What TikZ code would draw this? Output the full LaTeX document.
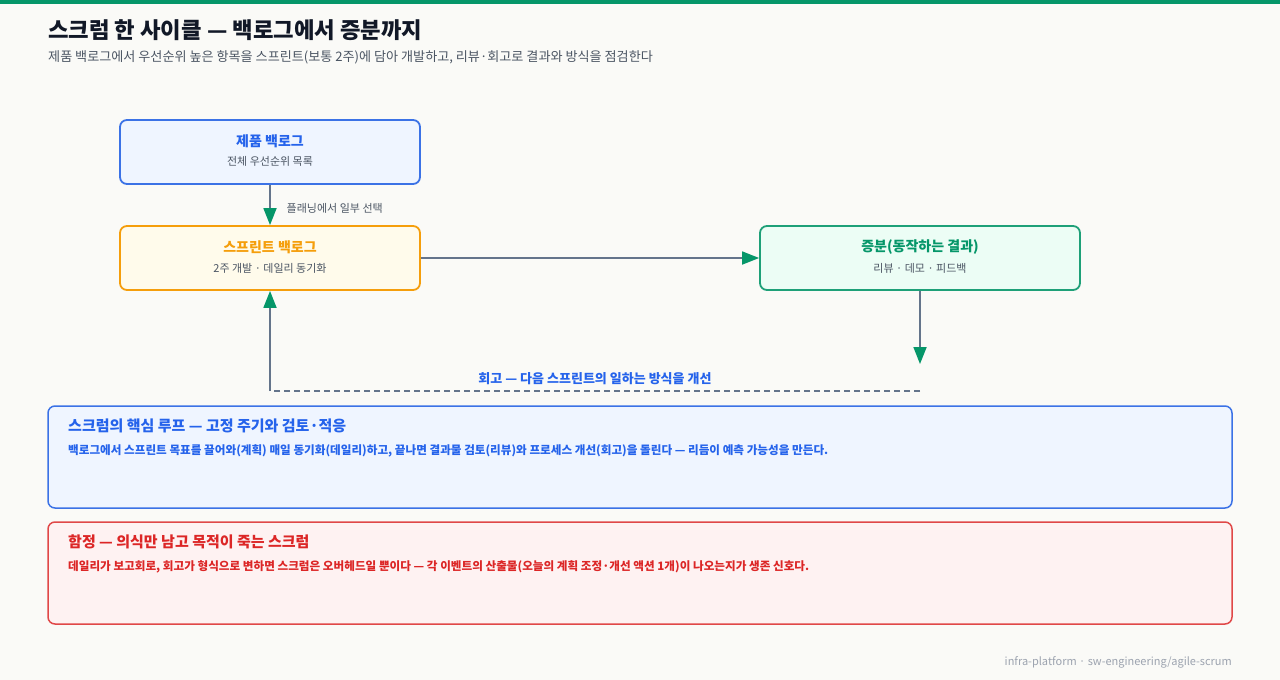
\documentclass[tikz,border=0pt]{standalone}
\usepackage{fontspec}
\setmainfont{Noto Sans CJK KR}
\usetikzlibrary{arrows.meta}

\definecolor{pagebg}{HTML}{FAFAF7}
\definecolor{topgreen}{HTML}{059669}
\definecolor{inkdark}{HTML}{111827}
\definecolor{inkgray}{HTML}{4B5563}
\definecolor{inklight}{HTML}{9CA3AF}
\definecolor{linegray}{HTML}{64748B}
\definecolor{accblue}{HTML}{2563EB}
\definecolor{bordblue}{HTML}{3B72E6}
\definecolor{fillblue}{HTML}{EFF5FF}
\definecolor{accorange}{HTML}{F59E0B}
\definecolor{fillorange}{HTML}{FFFBEB}
\definecolor{accgreen}{HTML}{059669}
\definecolor{fillgreen}{HTML}{ECFDF5}
\definecolor{accred}{HTML}{DC2626}
\definecolor{bordred}{HTML}{E04848}
\definecolor{fillred}{HTML}{FEF2F2}

\newcommand{\fsz}[1]{\fontsize{#1}{#1}\selectfont}

\begin{document}
\begin{tikzpicture}[
    x=1pt, y=-1pt,
    card/.style={draw, line width=1.8pt, rounded corners=7pt,
                 minimum width=300pt, minimum height=64pt, inner sep=0pt},
    cardtitle/.style={font=\fsz{14}\bfseries},
    cardsub/.style={font=\fsz{11}, text=inkgray},
    panel/.style={draw, line width=1.5pt, rounded corners=7pt,
                  minimum width=1184pt, minimum height=102pt, inner sep=0pt},
    paneltitle/.style={anchor=west, inner sep=0pt, font=\fsz{15}\bfseries},
    panelbody/.style={anchor=west, inner sep=0pt, font=\fsz{11.6}\bfseries},
    flow/.style={draw=linegray, line width=1.8pt,
                 -{Triangle[length=17pt,width=13pt,color=accgreen]}},
  ]
  % Page
  \useasboundingbox (0,0) rectangle (1280,680);
  \fill[pagebg] (0,0) rectangle (1280,680);
  \fill[topgreen] (0,0) rectangle (1280,4);

  % Heading
  \node[anchor=west, inner sep=0pt, font=\fsz{22.3}\bfseries, text=inkdark]
    (title) at (48,30) {스크럼 한 사이클 — 백로그에서 증분까지};
  \node[anchor=west, inner sep=0pt, font=\fsz{13.1}, text=inkgray]
    (subtitle) at (48,57) {제품 백로그에서 우선순위 높은 항목을 스프린트(보통 2주)에 담아 개발하고, 리뷰·회고로 결과와 방식을 점검한다};

  % Cards
  \node[card, draw=bordblue, fill=fillblue] (pb) at (270,152) {};
  \node[cardtitle, text=accblue] (pbt) at (270,141) {제품 백로그};
  \node[cardsub] (pbs) at (270,161) {전체 우선순위 목록};

  \node[card, draw=accorange, fill=fillorange] (sb) at (270,258) {};
  \node[cardtitle, text=accorange] (sbt) at (270,247) {스프린트 백로그};
  \node[cardsub] (sbs) at (270,268) {2주 개발 · 데일리 동기화};

  \node[card, minimum width=320pt, draw=accgreen!90, fill=fillgreen] (inc) at (920,258) {};
  \node[cardtitle, text=accgreen] (inct) at (920,247) {증분(동작하는 결과)};
  \node[cardsub] (incs) at (920,268) {리뷰 · 데모 · 피드백};

  % Flow
  \draw[flow] (pb) -- (sb)
    node[midway, right=12.5pt, yshift=-3pt, font=\fsz{11}, text=inkgray] {플래닝에서 일부 선택};
  \draw[flow] (sb) -- (inc);
  \coordinate (down) at (920,364);
  \draw[flow] (inc) -- (down);

  % Retrospective loop
  \coordinate (r1) at (920,391);
  \coordinate (r2) at (270,391);
  \draw[linegray, line width=1.5pt, dash pattern=on 6pt off 4pt] (r1) -- ([xshift=4pt]r2);
  \draw[flow] (r2) -- (sb);
  \node[font=\fsz{13}\bfseries, text=accblue] (retro) at (595,379)
    {회고 — 다음 스프린트의 일하는 방식을 개선};

  % Panels
  \node[panel, draw=bordblue, fill=fillblue] (loop) at (640,457) {};
  \node[paneltitle, text=accblue] (loopt) at (68,426) {스크럼의 핵심 루프 — 고정 주기와 검토·적응};
  \node[panelbody, text=accblue] (loopb) at (68,451)
    {백로그에서 스프린트 목표를 끌어와(계획) 매일 동기화(데일리)하고, 끝나면 결과물 검토(리뷰)와 프로세스 개선(회고)을 돌린다 — 리듬이 예측 가능성을 만든다.};

  \node[panel, draw=bordred, fill=fillred] (trap) at (640,573) {};
  \node[paneltitle, text=accred] (trapt) at (68,542) {함정 — 의식만 남고 목적이 죽는 스크럼};
  \node[panelbody, text=accred] (trapb) at (68,567)
    {데일리가 보고회로, 회고가 형식으로 변하면 스크럼은 오버헤드일 뿐이다 — 각 이벤트의 산출물(오늘의 계획 조정·개선 액션 1개)이 나오는지가 생존 신호다.};

  % Footer
  \node[anchor=east, inner sep=0pt, font=\fsz{11}, text=inklight] (foot) at (1232,662)
    {infra-platform · sw-engineering/agile-scrum};
\end{tikzpicture}
\end{document}
